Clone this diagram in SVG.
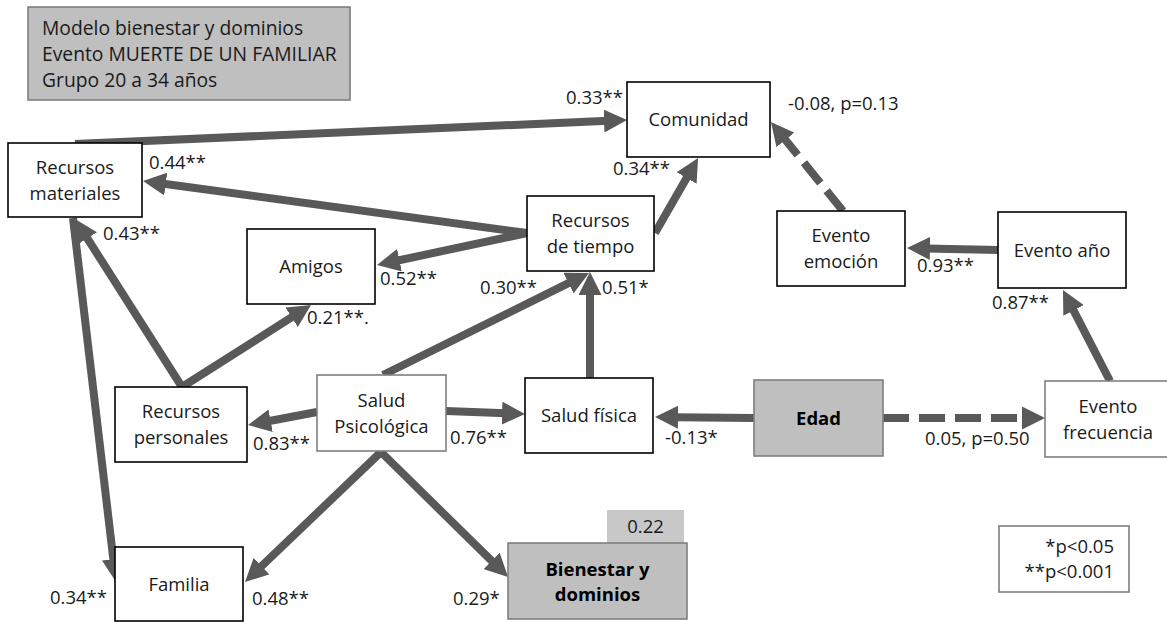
<svg xmlns="http://www.w3.org/2000/svg" width="1167" height="622" viewBox="0 0 1167 622">
  <style>
    text { font-family: "Open Sans", "Liberation Sans", sans-serif; font-size: 18.5px; fill: #1a1a1a; }
    .title { font-size: 19.3px; }
    .box { fill: #ffffff; stroke: #000000; stroke-width: 1.6; }
    .box-soft { fill: #ffffff; stroke: #7f7f7f; stroke-width: 1.6; }
    .box-grey { fill: #bfbfbf; stroke: #7f7f7f; stroke-width: 1.6; }
    .mid { text-anchor: middle; }
    .end { text-anchor: end; }
    .bold { font-weight: bold; fill: #000000; }
    .edge { fill: none; stroke: #595959; stroke-width: 8; marker-end: url(#head); }
    .dash { stroke-dasharray: 26 10; }
  </style>
  <defs>
    <marker id="head" markerUnits="userSpaceOnUse" markerWidth="23" markerHeight="23" refX="4" refY="11.5" orient="auto">
      <path d="M0,0 L23,11.5 L0,23 z" fill="#595959"/>
    </marker>
  </defs>

  <!-- title block -->
  <g id="title">
    <rect class="box-grey" x="28" y="7" width="322" height="93"/>
    <text class="title" x="42" y="35">Modelo bienestar y dominios</text>
    <text class="title" x="42" y="61">Evento MUERTE DE UN FAMILIAR</text>
    <text class="title" x="42" y="87">Grupo 20 a 34 años</text>
  </g>

  <!-- paths -->
  <g id="connectors">
    <line class="edge" x1="75" y1="144" x2="608" y2="120.8"/>
    <line class="edge" x1="527" y1="233" x2="161.8" y2="183.5"/>
    <line class="edge" x1="527" y1="233" x2="395.6" y2="261"/>
    <line class="edge" x1="655" y1="233" x2="688.6" y2="174.5"/>
    <line class="edge dash" x1="843" y1="211" x2="782.9" y2="136.8"/>
    <line class="edge" x1="998" y1="250" x2="926" y2="248.4"/>
    <line class="edge" x1="1110" y1="381" x2="1071.7" y2="306.9"/>
    <line class="edge dash" x1="883" y1="418" x2="1026" y2="418"/>
    <line class="edge" x1="754" y1="418" x2="674" y2="417.2"/>
    <line class="edge" x1="446" y1="411" x2="506" y2="413.3"/>
    <line class="edge" x1="590" y1="378" x2="590" y2="291"/>
    <line class="edge" x1="383" y1="375" x2="572" y2="281.4"/>
    <line class="edge" x1="317" y1="412" x2="266.7" y2="421.5"/>
    <line class="edge" x1="381" y1="452" x2="258.7" y2="568.9"/>
    <line class="edge" x1="381" y1="452" x2="494.5" y2="563.7"/>
    <line class="edge" x1="182" y1="387" x2="85.2" y2="235"/>
    <line class="edge" x1="182" y1="387" x2="295" y2="315.2"/>
    <line class="edge" x1="73" y1="218" x2="113.8" y2="563.1"/>
  </g>

  <!-- coefficients -->
  <g id="coefficients">
    <text class="end" x="623" y="103.5">0.33**</text>
    <text x="149" y="169">0.44**</text>
    <text x="613" y="174.5">0.34**</text>
    <text x="788" y="109.5">-0.08, p=0.13</text>
    <text x="380" y="284.5">0.52**</text>
    <text x="103" y="239.5">0.43**</text>
    <text x="307" y="323.5">0.21**.</text>
    <text x="480" y="293.5">0.30**</text>
    <text x="602" y="293.5">0.51*</text>
    <text x="917" y="271.5">0.93**</text>
    <text x="992" y="308.5">0.87**</text>
    <text x="253" y="449.5">0.83**</text>
    <text x="450" y="443.5">0.76**</text>
    <text x="665" y="443.5">-0.13*</text>
    <text x="925" y="444.5">0.05, p=0.50</text>
    <text x="50" y="603.5">0.34**</text>
    <text x="252" y="604.5">0.48**</text>
    <text x="453" y="604.5">0.29*</text>
  </g>

  <g id="recursos-materiales">
    <rect class="box" x="8" y="143" width="134" height="74"/>
    <text class="mid" x="75" y="173.5">Recursos</text>
    <text class="mid" x="75" y="199.5">materiales</text>
  </g>
  <g id="comunidad">
    <rect class="box" x="627" y="82" width="143" height="75"/>
    <text class="mid" x="698.5" y="126">Comunidad</text>
  </g>
  <g id="recursos-tiempo">
    <rect class="box" x="527" y="196" width="127" height="75"/>
    <text class="mid" x="590.5" y="227">Recursos</text>
    <text class="mid" x="590.5" y="253">de tiempo</text>
  </g>
  <g id="evento-emocion">
    <rect class="box" x="777" y="211" width="128" height="75"/>
    <text class="mid" x="841" y="242">Evento</text>
    <text class="mid" x="841" y="268">emoción</text>
  </g>
  <g id="evento-anio">
    <rect class="box" x="998" y="212" width="128" height="76"/>
    <text class="mid" x="1062" y="256.5">Evento año</text>
  </g>
  <g id="evento-frecuencia">
    <rect class="box-soft" x="1045" y="381" width="128" height="76"/>
    <text class="mid" x="1108" y="412.5">Evento</text>
    <text class="mid" x="1108" y="438.5">frecuencia</text>
  </g>
  <g id="amigos">
    <rect class="box" x="247" y="229" width="128" height="75"/>
    <text class="mid" x="311" y="273">Amigos</text>
  </g>
  <g id="recursos-personales">
    <rect class="box" x="115" y="387" width="132" height="75"/>
    <text class="mid" x="181" y="418">Recursos</text>
    <text class="mid" x="181" y="444">personales</text>
  </g>
  <g id="salud-psicologica">
    <rect class="box-soft" x="317" y="375" width="129" height="76"/>
    <text class="mid" x="381.5" y="406.5">Salud</text>
    <text class="mid" x="381.5" y="432.5">Psicológica</text>
  </g>
  <g id="familia">
    <rect class="box" x="115" y="547" width="128" height="74"/>
    <text class="mid" x="179" y="591">Familia</text>
  </g>
  <g id="salud-fisica">
    <rect class="box" x="525" y="378" width="128" height="75"/>
    <text class="mid" x="589" y="422">Salud física</text>
  </g>
  <g id="edad">
    <rect class="box-grey" x="754" y="380" width="129" height="76"/>
    <text class="mid bold" x="818.5" y="424.5">Edad</text>
  </g>
  <g id="bienestar">
    <rect x="607" y="510" width="77" height="33" fill="#c8c8c8"/>
    <text class="mid" x="645.5" y="533">0.22</text>
    <rect class="box-grey" x="508" y="543" width="179" height="76"/>
    <text class="mid bold" x="597.5" y="575.5">Bienestar y</text>
    <text class="mid bold" x="597.5" y="601">dominios</text>
  </g>

  <g id="legend">
    <rect class="box-soft" x="999" y="526" width="130" height="66"/>
    <text class="end" x="1114" y="553">*p&lt;0.05</text>
    <text class="end" x="1114" y="578">**p&lt;0.001</text>
  </g>
</svg>
